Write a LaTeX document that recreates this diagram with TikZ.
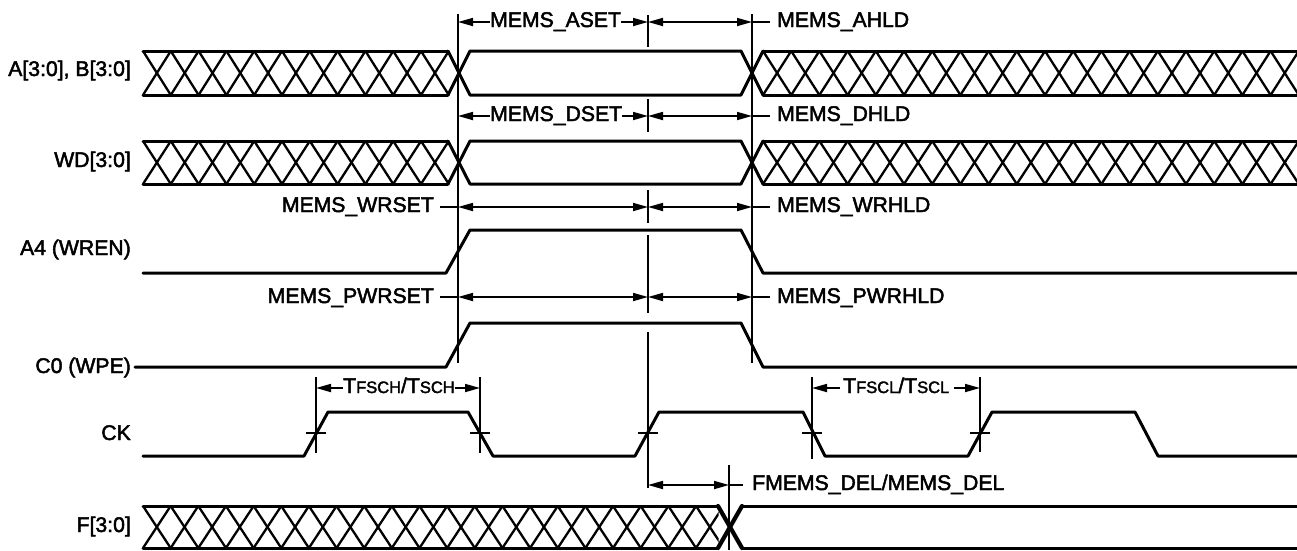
\documentclass[tikz,border=0pt]{standalone}
\usepackage{fontspec}
\setmainfont{Liberation Sans}
\newfontfamily\labfont[FakeBold=2.2]{Liberation Sans}
\usetikzlibrary{arrows.meta}
\newcommand{\smc}[1]{{\fontsize{16.5}{17}\selectfont #1}}
% \hatchbus{x0}{x1}{period}{top}{bottom}
\newcommand{\hatchbus}[5]{%
  \begin{scope}
    \clip (#1-2,#4-3) rectangle (#2+0.5,#5+3);
    \pgfmathtruncatemacro{\hn}{ceil((#2-#1)/#3)}
    \foreach \k in {1,...,\hn}{
      \pgfmathsetmacro{\xa}{#1+(\k-1)*#3}
      \pgfmathsetmacro{\xb}{#1+\k*#3}
      \draw[hatchline] (\xa,#4) -- (\xb,#5);
      \draw[hatchline] (\xa,#5) -- (\xb,#4);
    }
  \end{scope}
  \draw[wave] (#1,#4) -- (#2,#4);
  \draw[wave] (#1,#5) -- (#2,#5);
}
\tikzset{
  wave/.style={line width=3pt,line join=round,line cap=round},
  hatchline/.style={line width=2.3pt},
  guide/.style={line width=1.7pt},
  dim/.style={line width=1.7pt},
  arr/.style={dim,{Triangle[length=15pt,width=8pt]}-{Triangle[length=15pt,width=8pt]}},
  arrl/.style={dim,{Triangle[length=15pt,width=8pt]}-},
  arrr/.style={dim,-{Triangle[length=15pt,width=8pt]}},
  lab/.style={font=\labfont\fontsize{21.2}{23}\selectfont,inner sep=0pt,text height=15pt,text depth=3pt},
  sig/.style={lab,anchor=east},
  labr/.style={lab,anchor=west},
}
\begin{document}
\begin{tikzpicture}[x=1pt,y=-1pt]
\useasboundingbox[fill=white] (0,0) rectangle (1297,550);

% guide lines
\coordinate (gLt) at (458,14);   \coordinate (gLb) at (458,363);
\coordinate (gRt) at (752,14);   \coordinate (gRb) at (752,363);
\draw[guide] (gLt) -- (gLb);
\draw[guide] (gRt) -- (gRb);
\foreach \ya/\yb in {15/47,99/132,190/223,235/313,332/488}
  \draw[guide] (648,\ya) -- (648,\yb);

% A,B bus
\hatchbus{143}{448}{27.8}{51}{95}
\draw[wave] (448,51) -- (470,95) -- (741,95) -- (763,51);
\draw[wave] (448,95) -- (470,51) -- (741,51) -- (763,95);
\hatchbus{763}{1297}{28.2}{51}{95}

% WD bus
\hatchbus{143}{448}{27.8}{141}{184}
\draw[wave] (448,141) -- (470,184) -- (741,184) -- (763,141);
\draw[wave] (448,184) -- (470,141) -- (741,141) -- (763,184);
\hatchbus{763}{1297}{28.2}{141}{184}

% A4, C0
\draw[wave] (143,273) -- (446,273) -- (470,230) -- (741,230) -- (763,273) -- (1297,273);
\draw[wave] (135,367) -- (446,367) -- (470,323) -- (741,323) -- (763,367) -- (1297,367);

% CK
\draw[wave] (143,456) -- (304,456) -- (328,412) -- (468,412) -- (493,456) -- (635,456) -- (659,412)
  -- (803,412) -- (825,456) -- (968,456) -- (992,412) -- (1135,412) -- (1158,456) -- (1297,456);
\foreach \x/\ya/\yb in {316/377/453,480/377/453,812/377/459,980/377/452}
  \draw[guide] (\x,\ya) -- (\x,\yb);
\foreach \x in {316,480,648,812,980}
  \draw[guide] (\x-10,433) -- (\x+10,433);

% F bus
\hatchbus{143}{718}{27.65}{506}{548}
\draw[wave,line width=4.2pt] (718,506) -- (742,548);
\draw[wave,line width=4.2pt] (718,548) -- (742,506);
\draw[wave] (742,548) -- (1297,548);
\draw[wave] (742,506) -- (1297,506);
\draw[guide] (729,465) -- (729,550);

% signal names
\node[sig] (sA) at (131,70) {A[3:0], B[3:0]};
\node[sig] (sW) at (131,161) {WD[3:0]};
\node[sig] (sE) at (131,249) {A4 (WREN)};
\node[sig] (sC) at (131,367) {C0 (WPE)};
\node[sig] (sK) at (131,434) {CK};
\node[sig] (sF) at (131,526) {F[3:0]};

% MEMS_ASET row
\node[lab,anchor=west] (aset) at (490,21) {MEMS\_ASET};
\node[labr] (ahld) at (777,21) {MEMS\_AHLD};
\coordinate (a0) at (458,22); \coordinate (a1) at (648,22); \coordinate (a2) at (752,22);
\draw[arrl] (a0) -- (aset.west |- a0);
\draw[arrr] (aset.east |- a0) -- (a1);
\draw[arr] (a1) -- (a2);
\draw[dim] (a2) -- ([xshift=-7pt]ahld.west |- a2);

% MEMS_DSET row
\node[lab,anchor=west] (dset) at (490,115) {MEMS\_DSET};
\node[labr] (dhld) at (777,115) {MEMS\_DHLD};
\coordinate (d0) at (458,116); \coordinate (d1) at (648,116); \coordinate (d2) at (752,116);
\draw[arrl] (d0) -- (dset.west |- d0);
\draw[arrr] (dset.east |- d0) -- (d1);
\draw[arr] (d1) -- (d2);
\draw[dim] (d2) -- ([xshift=-7pt]dhld.west |- d2);

% MEMS_WR row
\node[lab,anchor=east] (wrs) at (434,206) {MEMS\_WRSET};
\node[labr] (wrh) at (777,206) {MEMS\_WRHLD};
\coordinate (w0) at (458,207); \coordinate (w1) at (648,207); \coordinate (w2) at (752,207);
\draw[dim] ([xshift=6pt]wrs.east |- w0) -- (w0);
\draw[arr] (w0) -- (w1);
\draw[arr] (w1) -- (w2);
\draw[dim] (w2) -- ([xshift=-7pt]wrh.west |- w2);

% MEMS_PWR row
\node[lab,anchor=east] (pws) at (434,297) {MEMS\_PWRSET};
\node[labr] (pwh) at (777,297) {MEMS\_PWRHLD};
\coordinate (p0) at (458,297); \coordinate (p1) at (648,297); \coordinate (p2) at (752,297);
\draw[dim] ([xshift=6pt]pws.east |- p0) -- (p0);
\draw[arr] (p0) -- (p1);
\draw[arr] (p1) -- (p2);
\draw[dim] (p2) -- ([xshift=-7pt]pwh.west |- p2);

% Tsch / Tscl
\node[lab,anchor=west] (tsch) at (343,387) {T\smc{FSCH}/T\smc{SCH}};
\node[lab,anchor=west] (tscl) at (843,387) {T\smc{FSCL}/T\smc{SCL}};
\coordinate (t0) at (316,388); \coordinate (t1) at (480,388);
\coordinate (t2) at (812,388); \coordinate (t3) at (980,388);
\draw[arrl] (t0) -- (tsch.west |- t0);
\draw[arrr] (tsch.east |- t0) -- (t1);
\draw[arrl] (t2) -- ([xshift=-3pt]tscl.west |- t2);
\draw[arrr] ([xshift=5pt]tscl.east |- t3) -- (t3);

% FMEMS
\node[labr] (fm) at (752,484) {FMEMS\_DEL/MEMS\_DEL};
\coordinate (f0) at (648,485); \coordinate (f1) at (729,485);
\draw[arr] (f0) -- (f1);
\draw[dim] (f1) -- ([xshift=-9pt]fm.west |- f1);
\end{tikzpicture}
\end{document}
